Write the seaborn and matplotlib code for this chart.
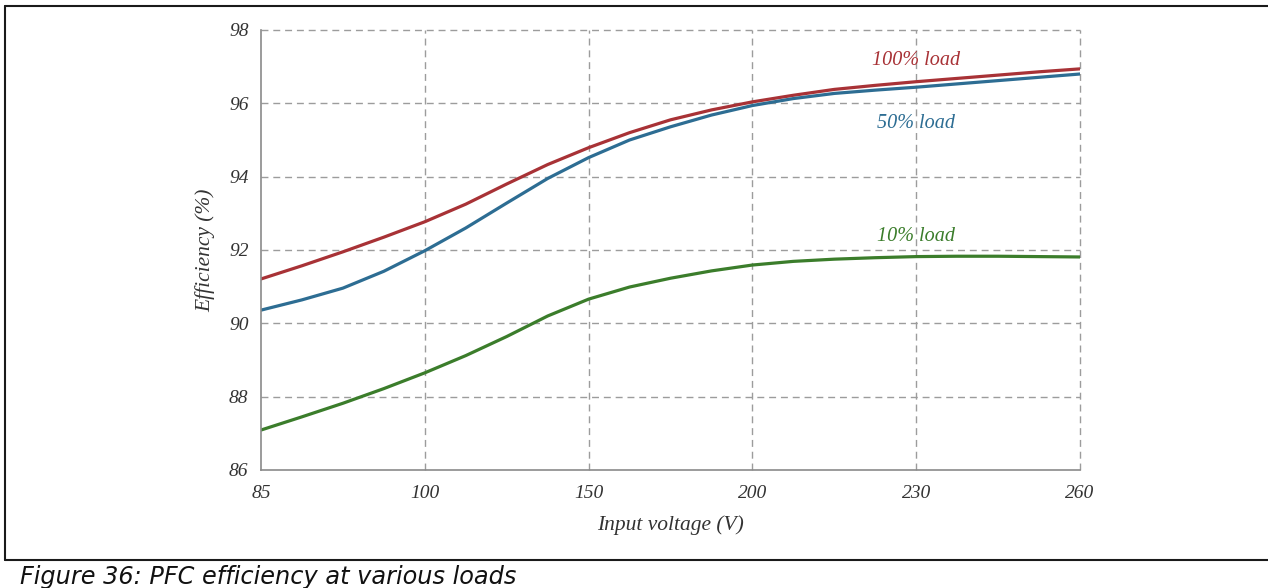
import matplotlib
matplotlib.use("Agg")
import matplotlib.pyplot as plt
from matplotlib.lines import Line2D
import numpy as np
import pandas as pd
import seaborn as sns

# Input voltage tick labels (evenly spaced categories on the x axis)
voltage_labels = ["85", "100", "150", "200", "230", "260"]

# Sample positions along the axis (in tick-slot units) and efficiency readings (%)
positions = [0.0, 0.25, 0.5, 0.75, 1.0, 1.25, 1.5, 1.75, 2.0, 2.25, 2.5,
             2.75, 3.0, 3.25, 3.5, 3.75, 4.0, 4.25, 4.5, 4.75, 5.0]
eff_100 = [91.21, 91.57, 91.95, 92.35, 92.77, 93.25, 93.80, 94.33, 94.79, 95.20, 95.55,
           95.82, 96.04, 96.22, 96.38, 96.49, 96.59, 96.68, 96.77, 96.86, 96.94]
eff_50 = [90.36, 90.64, 90.96, 91.42, 91.98, 92.60, 93.28, 93.95, 94.52, 95.00, 95.36,
          95.68, 95.94, 96.13, 96.27, 96.36, 96.44, 96.53, 96.62, 96.71, 96.80]
eff_10 = [87.09, 87.45, 87.82, 88.22, 88.65, 89.12, 89.64, 90.20, 90.66, 90.99, 91.23,
          91.43, 91.59, 91.69, 91.75, 91.79, 91.82, 91.83, 91.83, 91.82, 91.81]

series_names = ["100% load", "50% load", "10% load"]
series_colors = ["#a83236", "#2d6d93", "#3b7d2b"]
label_y = [97.18, 95.46, 92.38]

df = pd.concat(
    [
        pd.DataFrame({"pos": positions, "eff": vals, "load": name})
        for name, vals in zip(series_names, [eff_100, eff_50, eff_10])
    ],
    ignore_index=True,
)

sns.set_style("white")
serif = ["Liberation Serif", "DejaVu Serif"]

fig = plt.figure(figsize=(12.68, 5.88), dpi=100)
ax = fig.add_axes([261 / 1268, 1 - 470 / 588, (1080 - 261) / 1268, (470 - 30) / 588])

sns.lineplot(
    data=df, x="pos", y="eff", hue="load", hue_order=series_names,
    palette=series_colors, linewidth=2.3, legend=False, ax=ax,
)
for ln in ax.get_lines():
    ln.set_solid_joinstyle("round")

ax.set_xlim(0, 5)
ax.set_ylim(86, 98)
ax.set_xticks(range(len(voltage_labels)))
ax.set_xticklabels(voltage_labels)
ax.set_yticks(np.arange(86, 99, 2))

grid_kw = dict(color="#9c9c9c", linewidth=1.0, linestyle=(0, (5, 3.5)), zorder=0,
               clip_on=False)
ax.grid(False)
for yv in np.arange(88, 99, 2):
    ax.axhline(yv, **grid_kw)
for xv in range(1, len(voltage_labels)):
    ax.axvline(xv, **grid_kw)

for side in ["top", "right"]:
    ax.spines[side].set_visible(False)
for side in ["left", "bottom"]:
    ax.spines[side].set_color("#8a8a8a")
    ax.spines[side].set_linewidth(1.2)

ax.tick_params(axis="y", direction="inout", length=8, width=1.0, color="#8a8a8a", pad=5)
ax.tick_params(axis="x", direction="out", length=4, width=1.0, color="#8a8a8a", pad=7)
for lab in ax.get_xticklabels() + ax.get_yticklabels():
    lab.set_family(serif)
    lab.set_style("italic")
    lab.set_fontsize(14)
    lab.set_color("#333333")

ax.set_xlabel("Input voltage (V)", family=serif, style="italic", fontsize=15.5,
              color="#333333", labelpad=9)
ax.set_ylabel("Efficiency (%)", family=serif, style="italic", fontsize=15.5,
              color="#333333", labelpad=10)

for name, col, yv in zip(series_names, series_colors, label_y):
    ax.text(4.0, yv, name, color=col, family=serif, style="italic", fontsize=14.5,
            ha="center", va="center")

# Frame around the figure and caption underneath
frame_kw = dict(color="#1a1a1a", linewidth=1.5, transform=fig.transFigure)
fig.add_artist(Line2D([5 / 1268, 1.0], [1 - 6 / 588, 1 - 6 / 588], **frame_kw))
fig.add_artist(Line2D([5 / 1268, 5 / 1268], [1 - 6 / 588, 1 - 560 / 588], **frame_kw))
fig.add_artist(Line2D([5 / 1268, 1.0], [1 - 560 / 588, 1 - 560 / 588], **frame_kw))
fig.text(20 / 1268, 1 - 584 / 588, "Figure 36: PFC efficiency at various loads",
         family="DejaVu Sans", style="italic", fontsize=17.3, color="#111111",
         ha="left", va="baseline")

fig.savefig("out.png", dpi=100)
